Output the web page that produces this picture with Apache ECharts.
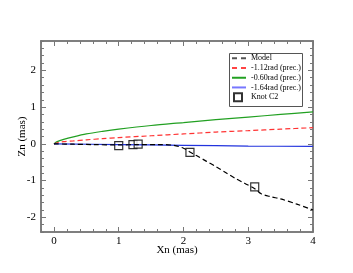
<!DOCTYPE html>
<html><head><meta charset="utf-8">
<script src="https://cdn.jsdelivr.net/npm/echarts@6/dist/echarts.min.js"></script>
<style>html,body{margin:0;padding:0;background:#fff}#c{width:353px;height:273px}</style>
</head><body><div id="c"></div>
<script>
const modelX = [0, 0.3, 0.6, 1.0, 1.3, 1.6, 1.85, 2.0, 2.1, 2.2, 2.35, 2.5, 2.65, 2.8, 2.95, 3.1, 3.2, 3.35, 3.5, 3.75, 4.0];
const modelY = [0, -0.01, -0.02, -0.03, -0.02, -0.02, -0.04, -0.12, -0.22, -0.32, -0.47, -0.62, -0.78, -0.94, -1.08, -1.22, -1.36, -1.44, -1.5, -1.64, -1.8];
const redX = [0, 0.05, 0.15, 0.3, 0.5, 0.75, 1.0, 1.5, 2.0, 2.5, 3.0, 3.5, 4.0];
const redY = [0, 0.03, 0.06, 0.08, 0.11, 0.14, 0.17, 0.22, 0.27, 0.32, 0.36, 0.40, 0.44];
const greenX = [0, 0.05, 0.15, 0.3, 0.5, 0.75, 1.0, 1.5, 2.0, 2.5, 3.0, 3.5, 4.0];
const greenY = [0, 0.06, 0.12, 0.19, 0.27, 0.34, 0.40, 0.50, 0.58, 0.66, 0.73, 0.80, 0.87];
const blueX = [0, 1, 2, 3, 4];
const blueY = [0, -0.02, -0.04, -0.06, -0.07];
const knotX = [1.0, 1.22, 1.3, 2.1, 3.1];
const knotY = [-0.05, -0.02, -0.01, -0.23, -1.17];
const xMajor = [0, 1, 2, 3, 4];
const yMajor = [-2, -1, 0, 1, 2];
const lineNames = ['Model', '-1.12rad (prec.)', '-0.60rad (prec.)', '-1.64rad (prec.)'];
const knotName = 'Knot C2';

const xMin = -0.2, xMax = 4, yMin = -2.4, yMax = 2.8;
const xMinor = [], yMinor = [];
for (let i = 0; i <= 21; i++) xMinor.push(+(xMin + i * 0.2).toFixed(2));
for (let i = 0; i <= 26; i++) yMinor.push(+(yMin + i * 0.2).toFixed(2));

const zip = (a, b) => a.map((v, i) => [v, b[i]]);
const axisCol = '#777';
const font = 'Liberation Serif';
const dashIcon = 'path://M0,0h5v2h-5z M9,0h5v2h-5z';
const solidIcon = 'path://M0,0h14v2h-14z';

function xa(pos, ticks, len, labels, name) {
  return {
    type: 'value', min: xMin, max: xMax, position: pos,
    name: name || '', nameLocation: 'middle', nameGap: 13, nameMoveOverlap: false,
    nameTextStyle: { fontFamily: font, fontSize: 11, color: '#000' },
    axisLine: { show: true, onZero: false, lineStyle: { color: axisCol, width: 1.5 } },
    axisTick: { show: true, inside: true, length: len, customValues: ticks, lineStyle: { color: axisCol } },
    axisLabel: labels ? { show: true, customValues: ticks, fontFamily: font, fontSize: 11, color: '#000', margin: 4 } : { show: false },
    splitLine: { show: false }
  };
}
function ya(pos, ticks, len, labels, name) {
  return {
    type: 'value', min: yMin, max: yMax, position: pos,
    name: name || '', nameLocation: 'middle', nameGap: 13, nameRotate: 90, nameMoveOverlap: false,
    nameTextStyle: { fontFamily: font, fontSize: 11, color: '#000' },
    axisLine: { show: true, onZero: false, lineStyle: { color: axisCol, width: 1.5 } },
    axisTick: { show: true, inside: true, length: len, customValues: ticks, lineStyle: { color: axisCol } },
    axisLabel: labels ? { show: true, customValues: ticks, fontFamily: font, fontSize: 11, color: '#000', margin: 5 } : { show: false },
    splitLine: { show: false }
  };
}

const chart = echarts.init(document.getElementById('c'), null, { renderer: 'canvas' });
chart.setOption({
  animation: false,
  backgroundColor: '#fff',
  grid: { left: 41, right: 40, top: 41, bottom: 41 },
  xAxis: [
    xa('bottom', xMajor, 5, true, 'Xn (mas)'),
    xa('bottom', xMinor, 3, false),
    xa('top', xMajor, 5, false),
    xa('top', xMinor, 3, false)
  ],
  yAxis: [
    ya('left', yMajor, 5, true, 'Zn (mas)'),
    ya('left', yMinor, 3, false),
    ya('right', yMajor, 5, false),
    ya('right', yMinor, 3, false)
  ],
  graphic: {
    z: 3,
    elements: [{ type: 'rect', z: 3, shape: { x: 229.5, y: 53.5, width: 73, height: 53 }, style: { fill: '#fff', stroke: '#555', lineWidth: 1 } }]
  },
  legend: [
    {
      orient: 'vertical', left: 232, top: 53.5, padding: 0, itemGap: 0,
      itemWidth: 14, itemHeight: 2,
      textStyle: { fontFamily: font, fontSize: 8, color: '#000', lineHeight: 9.7 },
      data: [
        { name: lineNames[0], icon: dashIcon, itemStyle: { color: '#555' } },
        { name: lineNames[1], icon: dashIcon, itemStyle: { color: '#ff4444' } },
        { name: lineNames[2], icon: solidIcon, itemStyle: { color: '#22a022' } },
        { name: lineNames[3], icon: solidIcon, itemStyle: { color: '#7777ff' } }
      ]
    },
    {
      orient: 'vertical', left: 233, top: 92.3, padding: 0, itemGap: 0,
      itemWidth: 8, itemHeight: 8,
      textStyle: { fontFamily: font, fontSize: 8, color: '#000', lineHeight: 9.7, padding: [0, 0, 0, 4] },
      data: [{ name: knotName, icon: 'rect' }]
    }
  ],
  series: [
    { name: lineNames[2], type: 'line', smooth: 0.3, showSymbol: false, symbol: 'none', data: zip(greenX, greenY), lineStyle: { color: '#22a022', width: 1.2 }, itemStyle: { color: '#22a022' } },
    { name: lineNames[1], type: 'line', smooth: 0.3, showSymbol: false, symbol: 'none', data: zip(redX, redY), lineStyle: { color: '#ff3333', width: 1.2, type: [5, 3] }, itemStyle: { color: '#ff3333' } },
    { name: lineNames[3], type: 'line', smooth: 0.3, showSymbol: false, symbol: 'none', data: zip(blueX, blueY), lineStyle: { color: '#2233dd', width: 1.2 }, itemStyle: { color: '#2233dd' } },
    { name: lineNames[0], type: 'line', smooth: 0.3, showSymbol: false, symbol: 'none', data: zip(modelX, modelY), lineStyle: { color: '#000', width: 1.2, type: [5, 3] }, itemStyle: { color: '#000' } },
    { name: knotName, type: 'scatter', symbol: 'rect', symbolSize: 8, data: zip(knotX, knotY), itemStyle: { color: '#fff', borderColor: '#000', borderWidth: 1.2 } }
  ]
});
</script></body></html>
